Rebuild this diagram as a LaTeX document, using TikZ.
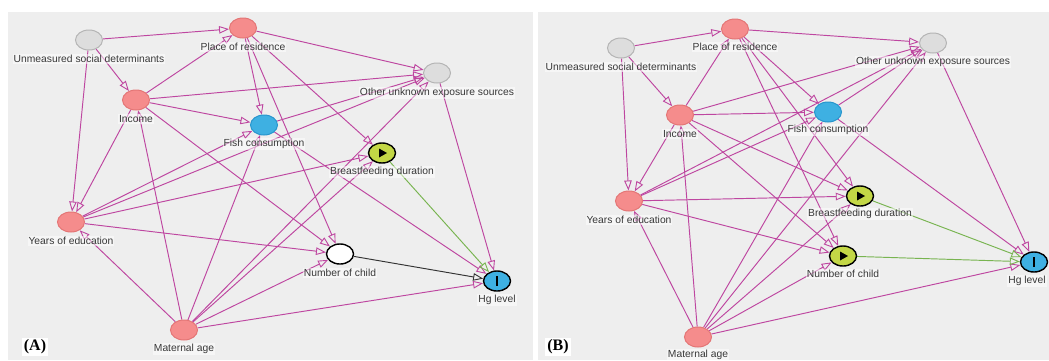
\documentclass[tikz,border=0pt]{standalone}
\usepackage{fontspec}
\setmainfont{Liberation Sans}
\newfontfamily\panelfont{Liberation Serif}
\usetikzlibrary{arrows.meta,shapes.geometric}
\definecolor{panelbg}{HTML}{EEEEEE}
\definecolor{edgepink}{RGB}{190,70,160}
\definecolor{edgegreen}{RGB}{120,180,80}
\definecolor{nodegray}{HTML}{DDDDDD}
\definecolor{graybd}{HTML}{B5B5B5}
\definecolor{nodepink}{RGB}{245,140,140}
\definecolor{pinkbd}{RGB}{228,118,118}
\definecolor{nodeblue}{RGB}{62,176,226}
\definecolor{bluebd}{RGB}{40,150,205}
\definecolor{nodeyg}{RGB}{195,215,70}
\pgfdeclarelayer{bg}
\pgfdeclarelayer{edges}
\pgfsetlayers{bg,edges,main}
\begin{document}
\begin{tikzpicture}[x=1pt,y=-1pt,
  dn/.style={ellipse, minimum width=27pt, minimum height=20pt, inner sep=0pt, line width=1pt},
  unobs/.style={dn, fill=nodegray, draw=graybd},
  anc/.style={dn, fill=nodepink, draw=pinkbd},
  oanc/.style={dn, fill=nodeblue, draw=bluebd},
  expo/.style={dn, fill=nodeyg, draw=black, line width=1.4pt},
  outc/.style={dn, fill=nodeblue, draw=black, line width=1.4pt},
  plainnode/.style={dn, fill=white, draw=black, line width=1.4pt},
  lab/.style={font=\fontsize{10.3}{12}\selectfont, text=black!78, fill=white, fill opacity=0.5, text opacity=1, inner sep=1pt},
  tip/.style={-{Triangle[open, length=10pt, width=7.5pt, line width=0.9pt]}},
  pe/.style={draw=edgepink, line width=0.95pt, tip},
  ge/.style={draw=edgegreen, line width=0.95pt, tip},
  be/.style={draw=black!80, line width=0.95pt, tip},
  plabel/.style={font=\panelfont\bfseries\fontsize{16}{18}\selectfont, fill=white, inner sep=2pt}
]
\useasboundingbox (0,0) rectangle (1049,360);
\begin{pgfonlayer}{bg}
  \fill[white] (0,0) rectangle (1049,360);
  \fill[panelbg] (8,12) rectangle (533,360);
  \fill[panelbg] (538,12) rectangle (1049,360);
\end{pgfonlayer}

% ---------------- Panel A ----------------
\node[unobs] (aU) at (89,40) {};
\node[anc]   (aP) at (243,28) {};
\node[anc]   (aI) at (136,100) {};
\node[unobs] (aO) at (437,73) {};
\node[oanc]  (aF) at (264,125) {};
\node[expo]  (aB) at (382,153) {};
\node[anc]   (aY) at (71,222) {};
\node[plainnode] (aN) at (340,254) {};
\node[outc]  (aH) at (497,281) {};
\node[anc]   (aM) at (184,330) {};

\node[lab] (aUl) at (89,59) {Unmeasured social determinants};
\node[lab] (aPl) at (243,47) {Place of residence};
\node[lab] (aIl) at (136,119) {Income};
\node[lab] (aOl) at (437,93) {Other unknown exposure sources};
\node[lab] (aFl) at (264,144) {Fish consumption};
\node[lab] (aBl) at (382,172) {Breastfeeding duration};
\node[lab] (aYl) at (71,241) {Years of education};
\node[lab] (aNl) at (340,273) {Number of child};
\node[lab] (aHl) at (497,300) {Hg level};
\node[lab] (aMl) at (184,349) {Maternal age};

\fill (aB.center) ++(-3,-4.5) -- ++(8,4.5) -- ++(-8,4.5) -- cycle;
\fill (aH.center) ++(-1.4,-5) rectangle ++(2.8,10);

\node[plabel] (aLbl) at (35,347) {(A)};

\begin{pgfonlayer}{edges}
\draw[pe] (aU) -- (aP);
\draw[pe] (aU) -- (aI);
\draw[pe] (aU) -- (aY);
\draw[pe] (aI) -- (aP);
\draw[pe] (aI) -- (aO);
\draw[pe] (aI) -- (aF);
\draw[pe] (aI) -- (aY);
\draw[pe] (aI) -- (aN);
\draw[pe] (aP) -- (aO);
\draw[pe] (aP) -- (aF);
\draw[pe] (aP) -- (aB);
\draw[pe] (aP) -- (aN);
\draw[pe] (aY) -- (aF);
\draw[pe] (aY) -- (aO);
\draw[pe] (aY) -- (aB);
\draw[pe] (aY) -- (aN);
\draw[pe] (aM) -- (aY);
\draw[pe] (aM) -- (aI);
\draw[pe] (aM) -- (aF);
\draw[pe] (aM) -- (aO);
\draw[pe] (aM) -- (aB);
\draw[pe] (aM) -- (aN);
\draw[pe] (aM) -- (aH);
\draw[pe] (aF) -- (aO);
\draw[pe] (aF) -- (aH);
\draw[pe] (aO) -- (aH);
\draw[ge] (aB) -- (aH);
\draw[be] (aN) -- (aH);
\end{pgfonlayer}

% ---------------- Panel B ----------------
\node[unobs] (bU) at (621,48) {};
\node[anc]   (bP) at (735,29) {};
\node[anc]   (bI) at (680,115) {};
\node[unobs] (bO) at (933,43) {};
\node[oanc]  (bF) at (828,112) {};
\node[expo]  (bB) at (860,196) {};
\node[anc]   (bY) at (629,201) {};
\node[expo]  (bN) at (843,256) {};
\node[outc]  (bH) at (1034,262) {};
\node[anc]   (bM) at (698,337) {};

\node[lab] (bUl) at (621,67) {Unmeasured social determinants};
\node[lab] (bPl) at (735,47) {Place of residence};
\node[lab] (bIl) at (680,134) {Income};
\node[lab] (bOl) at (933,62) {Other unknown exposure sources};
\node[lab] (bFl) at (828,130) {Fish consumption};
\node[lab] (bBl) at (860,214) {Breastfeeding duration};
\node[lab] (bYl) at (629,220) {Years of education};
\node[lab] (bNl) at (843,274) {Number of child};
\node[lab] (bHl) at (1027,281) {Hg level};
\node[lab] (bMl) at (698,355) {Maternal age};

\fill (bB.center) ++(-3,-4.5) -- ++(8,4.5) -- ++(-8,4.5) -- cycle;
\fill (bN.center) ++(-3,-4.5) -- ++(8,4.5) -- ++(-8,4.5) -- cycle;
\fill (bH.center) ++(-1.4,-5) rectangle ++(2.8,10);

\node[plabel] (bLbl) at (558,347) {(B)};

\begin{pgfonlayer}{edges}
\draw[pe] (bU) -- (bP);
\draw[pe] (bU) -- (bI);
\draw[pe] (bU) -- (bY);
\draw[pe] (bI) -- (bP);
\draw[pe] (bI) -- (bO);
\draw[pe] (bI) -- (bF);
\draw[pe] (bI) -- (bY);
\draw[pe] (bI) -- (bN);
\draw[pe] (bI) -- (bB);
\draw[pe] (bP) -- (bO);
\draw[pe] (bP) -- (bF);
\draw[pe] (bP) -- (bB);
\draw[pe] (bP) -- (bN);
\draw[pe] (bY) -- (bF);
\draw[pe] (bY) -- (bO);
\draw[pe] (bY) -- (bB);
\draw[pe] (bY) -- (bN);
\draw[pe] (bM) -- (bY);
\draw[pe] (bM) -- (bI);
\draw[pe] (bM) -- (bF);
\draw[pe] (bM) -- (bO);
\draw[pe] (bM) -- (bB);
\draw[pe] (bM) -- (bN);
\draw[pe] (bM) -- (bH);
\draw[pe] (bF) -- (bO);
\draw[pe] (bF) -- (bH);
\draw[pe] (bO) -- (bH);
\draw[ge] (bB) -- (bH);
\draw[ge] (bN) -- (bH);
\end{pgfonlayer}
\end{tikzpicture}
\end{document}
